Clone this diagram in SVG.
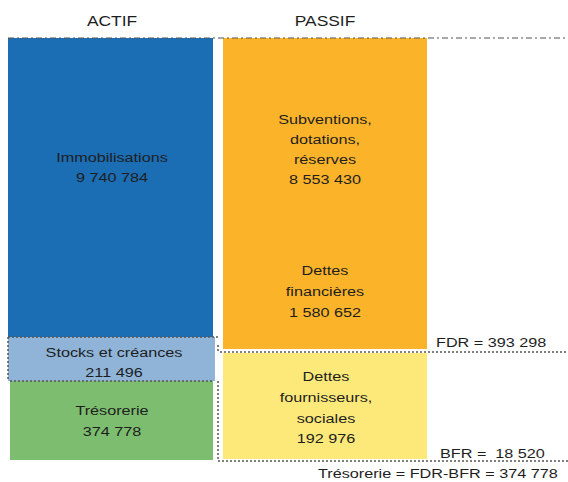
<svg xmlns="http://www.w3.org/2000/svg" width="568" height="482" viewBox="0 0 568 482">
<style>
text{font-family:"Liberation Sans",Arial,sans-serif;fill:#1e1e1e;text-anchor:middle;font-size:13.5px}
.h{font-size:14.5px}
.l{text-anchor:start}
.dot{stroke:#555;stroke-width:1.5;stroke-dasharray:2 2;fill:none}
.dd{stroke:#555;stroke-width:1.2;stroke-dasharray:6 3 2 3;fill:none}
</style>
<rect width="568" height="482" fill="#fff"/>
<g transform="translate(112,0) scale(1.2,1)"><text class="h" x="0" y="26">ACTIF</text></g>
<g transform="translate(325,0) scale(1.2,1)"><text class="h" x="0" y="26">PASSIF</text></g>
<g id="immobilisations">
<rect x="8" y="38" width="205" height="299" fill="#1b6db4"/>
<g transform="translate(112,0) scale(1.2,1)">
<text x="0" y="162">Immobilisations</text>
<text x="0" y="182">9 740 784</text>
</g>
</g>
<g id="stocks">
<rect x="8" y="337" width="207" height="44" fill="#8fb4d8"/>
<g transform="translate(114,0) scale(1.2,1)">
<text x="0" y="357">Stocks et créances</text>
<text x="0" y="377">211 496</text>
</g>
</g>
<g id="tresorerie">
<rect x="10" y="381" width="203" height="79" fill="#7dbd6f"/>
<g transform="translate(112,0) scale(1.2,1)">
<text x="0" y="415">Trésorerie</text>
<text x="0" y="436">374 778</text>
</g>
</g>
<g id="subventions">
<rect x="223" y="38" width="204" height="311" fill="#fbb42a"/>
<g transform="translate(325,0) scale(1.2,1)">
<text x="0" y="124">Subventions,</text>
<text x="0" y="144">dotations,</text>
<text x="0" y="164">réserves</text>
<text x="0" y="184">8 553 430</text>
<text x="0" y="275">Dettes</text>
<text x="0" y="296">financières</text>
<text x="0" y="317">1 580 652</text>
</g>
</g>
<g id="dettes-fournisseurs">
<rect x="223" y="353" width="204" height="106" fill="#fde97a"/>
<g transform="translate(326,0) scale(1.2,1)">
<text x="0" y="381">Dettes</text>
<text x="0" y="402">fournisseurs,</text>
<text x="0" y="423">sociales</text>
<text x="0" y="443">192 976</text>
</g>
</g>
<g id="connectors">
<line class="dd" x1="8" y1="38" x2="568" y2="38"/>
<line class="dot" x1="8" y1="337" x2="218" y2="337"/>
<line class="dot" x1="8" y1="337" x2="8" y2="381"/>
<line class="dot" x1="10" y1="381" x2="213" y2="381"/>
<line class="dot" x1="218" y1="345" x2="218" y2="352"/>
<line class="dot" x1="218" y1="381" x2="218" y2="461"/>
<line class="dot" x1="220" y1="352" x2="568" y2="352"/>
<line class="dot" x1="218" y1="461" x2="568" y2="461"/>
</g>
<g transform="translate(436,0) scale(1.2,1)"><text class="l" x="0" y="347">FDR = 393 298</text></g>
<g transform="translate(440,0) scale(1.2,1)"><text class="l" x="0" y="458">BFR = &#160;18 520</text></g>
<g transform="translate(318,0) scale(1.2,1)"><text class="l" x="0" y="478">Trésorerie = FDR-BFR = 374 778</text></g>
</svg>
